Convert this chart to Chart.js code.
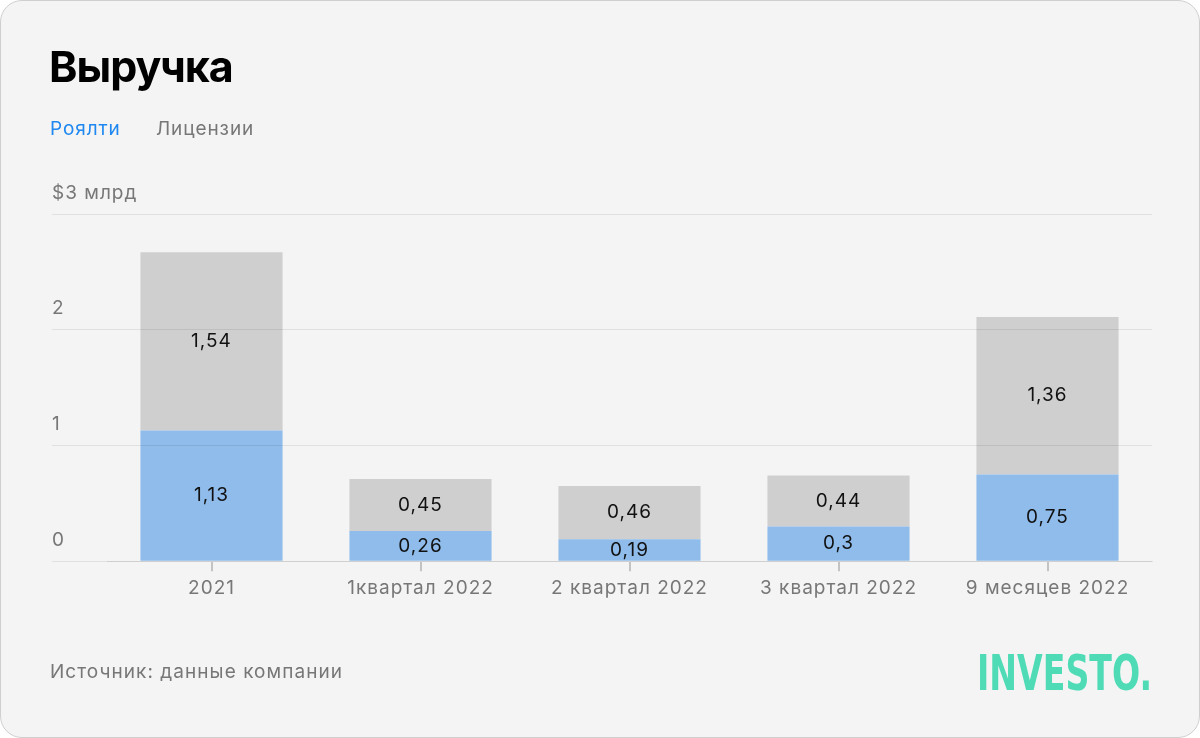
<!DOCTYPE html>
<html><head><meta charset="utf-8">
<script src="https://cdn.jsdelivr.net/npm/chart.js@4/dist/chart.umd.min.js"></script>
<style>
html,body{margin:0;padding:0;background:#fff;}
body{width:1200px;height:738px;position:relative;overflow:hidden;font-family:Inter,"Noto Sans",sans-serif;}
#card{position:absolute;left:0;top:0;width:1198px;height:736px;border:1px solid #cfcfcf;border-radius:22px;background:#f4f4f4;}
#title{position:absolute;left:49px;top:40px;font-size:43px;font-weight:700;color:#000;letter-spacing:-1px;}
.leg{position:absolute;top:117px;font-size:19px;letter-spacing:0.9px;}
#src{position:absolute;left:50px;top:660px;font-size:19px;color:#777;letter-spacing:1.05px;}
#logo{position:absolute;left:977px;top:648px;font-family:"Liberation Sans Narrow","DejaVu Sans Condensed",sans-serif;font-weight:700;font-size:50px;color:#4edbb5;transform-origin:0 0;white-space:nowrap;line-height:50px;}
#cv{position:absolute;left:0;top:0;}
</style></head>
<body>
<div id="card"></div>
<canvas id="cv" width="1200" height="738"></canvas>
<div id="title">Выручка</div>
<div class="leg" style="left:50px;color:#1e88f0;">Роялти</div>
<div class="leg" style="left:156px;color:#777;">Лицензии</div>
<div id="src">Источник: данные компании</div>
<div id="logo">INVESTO.</div>
<script>
const categories = ["2021", "1квартал 2022", "2 квартал 2022", "3 квартал 2022", "9 месяцев 2022"];
const royalties = [1.13, 0.26, 0.19, 0.3, 0.75];
const licenses = [1.54, 0.45, 0.46, 0.44, 1.36];
const seriesNames = ["Роялти", "Лицензии"];
const yTicks = [0, 1, 2, 3];
const yTopLabel = "$3 млрд";

const logo = document.getElementById('logo');
const lw = logo.getBoundingClientRect().width;
logo.style.transform = 'scaleX(' + (175 / lw) + ')';

const spacing = {
  id: 'spacing',
  beforeDraw(chart) { chart.ctx.letterSpacing = '1px'; }
};

const valueLabels = {
  id: 'valueLabels',
  afterDatasetsDraw(chart) {
    const ctx = chart.ctx;
    ctx.save();
    ctx.font = '19px Inter, "Noto Sans", sans-serif';
    ctx.letterSpacing = '1px';
    ctx.fillStyle = '#111';
    ctx.textAlign = 'center';
    ctx.textBaseline = 'middle';
    chart.data.datasets.forEach((ds, i) => {
      const meta = chart.getDatasetMeta(i);
      meta.data.forEach((el, j) => {
        const y = (el.y + el.base) / 2;
        ctx.fillText(String(ds.data[j]).replace('.', ','), el.x, y);
      });
    });
    ctx.restore();
  }
};

new Chart(document.getElementById('cv'), {
  type: 'bar',
  data: {
    labels: categories,
    datasets: [
      {label: seriesNames[0], data: royalties, backgroundColor: '#8fbceb', barPercentage: 0.68, categoryPercentage: 1},
      {label: seriesNames[1], data: licenses, backgroundColor: '#cfcfcf', barPercentage: 0.68, categoryPercentage: 1}
    ]
  },
  options: {
    responsive: false,
    animation: false,
    layout: {padding: {left: 52, right: 48, top: 214, bottom: 132}},
    plugins: {legend: {display: false}, tooltip: {enabled: false}},
    scales: {
      x: {
        stacked: true,
        grid: {drawOnChartArea: false, drawTicks: true, tickLength: 10, offset: false, color: 'rgba(0,0,0,0.2)', lineWidth: 2},
        border: {display: true, color: 'rgba(0,0,0,0.08)', width: 1},
        ticks: {color: '#777', font: {size: 19, family: 'Inter, "Noto Sans", sans-serif'}, padding: 6, maxRotation: 0, autoSkip: false}
      },
      y: {
        stacked: true,
        min: 0, max: 3,
        afterBuildTicks(scale) { scale.ticks = yTicks.map(v => ({value: v})); },
        afterFit(scale) { scale.width = 55; },
        grid: {color: 'rgba(0,0,0,0.08)', tickLength: 55, z: 1},
        border: {display: false},
        ticks: {
          color: '#777', mirror: true, crossAlign: 'near', labelOffset: -21, padding: -55,
          font: {size: 19, family: 'Inter, "Noto Sans", sans-serif'},
          callback: (v) => v === 3 ? yTopLabel : String(v)
        }
      }
    }
  },
  plugins: [spacing, valueLabels]
});
</script>
</body></html>
